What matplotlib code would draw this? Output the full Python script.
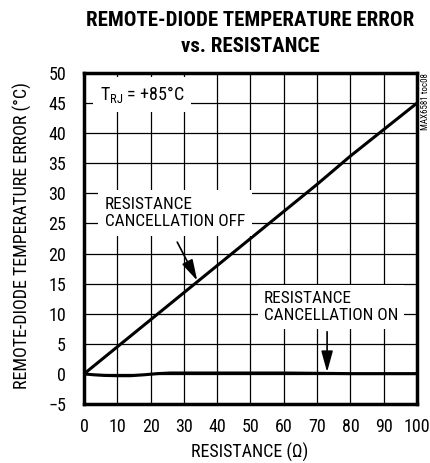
import matplotlib
matplotlib.use("Agg")
import matplotlib.pyplot as plt

# Data
res_off = [0, 10, 20, 30, 40, 50, 60, 70, 80, 90, 100]
err_off = [0, 4.5, 9.0, 13.5, 18.0, 22.5, 27.0, 31.5, 36.2, 40.6, 45.0]
res_on = [0, 3, 6, 10, 14, 18, 22, 26, 30, 40, 50, 60, 70, 80, 90, 100]
err_on = [0, -0.15, -0.25, -0.3, -0.3, -0.15, 0.05, 0.15, 0.15, 0.15, 0.15, 0.15, 0.1, 0.05, 0.05, 0.05]
xticks = [0, 10, 20, 30, 40, 50, 60, 70, 80, 90, 100]
yticks = [-5, 0, 5, 10, 15, 20, 25, 30, 35, 40, 45, 50]

plt.rcParams['font.family'] = ['Roboto Condensed', 'DejaVu Sans']

fig = plt.figure(figsize=(4.3, 4.63), dpi=100)
ax = fig.add_axes([84/430, 1 - 404/463, 333/430, 331/463])

ax.set_xlim(0, 100)
ax.set_ylim(-5, 50)
ax.set_xticks(xticks)
ax.set_yticks(yticks)
ax.tick_params(length=0, labelsize=13)
ax.tick_params(axis='x', pad=10)
ax.tick_params(axis='y', pad=13)
ax.grid(True, color='black', linewidth=0.9)
ax.set_axisbelow(True)
for s in ax.spines.values():
    s.set_linewidth(2.5)
    s.set_zorder(5)

ax.plot(res_off, err_off, color='black', linewidth=2.2, zorder=3)
ax.plot(res_on, err_on, color='black', linewidth=2.2, zorder=3)

ax.text(4.8, 46.4, r'T$_{\mathregular{RJ}}$ = +85°C', fontsize=13, va='center', ha='left',
        bbox=dict(facecolor='white', edgecolor='none', pad=5), zorder=4)
ax.text(6.3, 26.7, 'RESISTANCE\nCANCELLATION OFF', fontsize=12.4, va='center', ha='left',
        linespacing=1.2, bbox=dict(facecolor='white', edgecolor='none', pad=5), zorder=4)
ax.text(54, 11.1, 'RESISTANCE\nCANCELLATION ON', fontsize=12.4, va='center', ha='left',
        linespacing=1.2, bbox=dict(facecolor='white', edgecolor='none', pad=4), zorder=4)

arrow_style = '-|>,head_length=0.8,head_width=0.22'
ax.annotate('', xy=(34, 15.5), xytext=(28, 21.9),
            arrowprops=dict(arrowstyle=arrow_style, color='black', lw=1.2,
                            mutation_scale=16, shrinkA=0, shrinkB=0), zorder=6)
ax.annotate('', xy=(73, 0.3), xytext=(73, 7.0),
            arrowprops=dict(arrowstyle=arrow_style, color='black', lw=1.2,
                            mutation_scale=16, shrinkA=0, shrinkB=0), zorder=6)

fig.text(250/430, 1 - 452/463, 'RESISTANCE (Ω)', fontsize=13, ha='center', va='center')
fig.text(22/430, 1 - 236/463, 'REMOTE-DIODE TEMPERATURE ERROR (°C)', rotation=90,
         fontsize=13, ha='center', va='center')

fig.text(250/430, 1 - 21/463, 'REMOTE-DIODE TEMPERATURE ERROR', fontsize=15,
         fontweight='black', ha='center', va='center')
fig.text(250/430, 1 - 46/463, 'vs. RESISTANCE', fontsize=15,
         fontweight='black', ha='center', va='center')

fig.text(426/430, 1 - 73/463, 'MAX6581 toc08', rotation=90, fontsize=6.5,
         ha='center', va='top')

fig.savefig('out.png', dpi=100)
